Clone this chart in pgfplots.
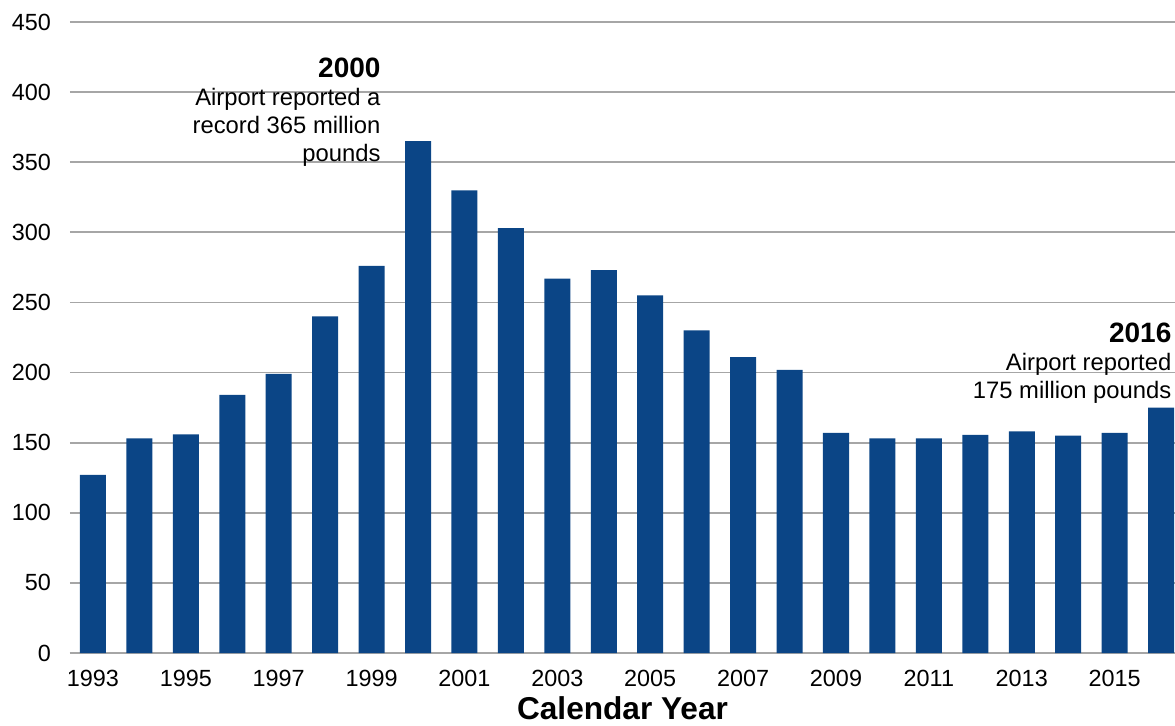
\documentclass[border=0pt]{standalone}
\usepackage{pgfplots}
\pgfplotsset{compat=1.18}
\usepackage{fontspec}
\setmainfont{Liberation Sans}
\definecolor{barblue}{HTML}{0B4586}
\definecolor{gridgray}{HTML}{A6A6A6}
\begin{document}
\begin{tikzpicture}
\begin{axis}[
  scale only axis,
  width=552.5pt, height=315.5pt,
  xmin=1992.505, xmax=2016.3,
  ymin=0, ymax=450,
  enlargelimits=false,
  ytick={0,50,...,450},
  xtick={1993,1995,...,2015},
  ymajorgrids,
  grid style={draw=gridgray, line width=0.9pt},
  axis x line=bottom,
  axis y line=left,
  x axis line style={draw=gridgray, line width=1.4pt, -},
  y axis line style={draw=none},
  major tick length=0pt,
  tick style={draw=none},
  /pgf/number format/assume math mode=true,
  ticklabel style={font=\fontsize{11.7}{13}\selectfont},
  xticklabel style={/pgf/number format/1000 sep={}, yshift=-5pt},
  yticklabel style={/pgf/number format/1000 sep={}, xshift=-6pt},
  xlabel={\textbf{Calendar Year}},
  xlabel style={font=\fontsize{15.8}{18}\selectfont, yshift=2pt},
  clip=true,
]
\addplot[ybar, bar width=0.56, fill=barblue, draw=none] coordinates {
(1993,127) (1994,153) (1995,156) (1996,184) (1997,199) (1998,240)
(1999,276) (2000,365) (2001,330) (2002,303) (2003,267) (2004,273)
(2005,255) (2006,230) (2007,211) (2008,202) (2009,157) (2010,153)
(2011,153) (2012,155.5) (2013,158) (2014,155) (2015,157) (2016,175)
};
\node[anchor=north east, align=right, inner sep=0pt, font=\fontsize{11.9}{14}\selectfont]
  at (axis cs:1999.2,425) {{\fontsize{14}{14}\selectfont\textbf{2000}}\\Airport reported a\\record 365 million\\pounds};
\node[anchor=north east, align=right, inner sep=0pt, font=\fontsize{11.9}{14}\selectfont]
  at (axis cs:2016.23,235.5) {{\fontsize{14}{14}\selectfont\textbf{2016}}\\Airport reported\\175 million pounds};
\end{axis}
\pgfresetboundingbox
\path[use as bounding box] (-35pt,-36pt) rectangle (552.5pt,326.5pt);
\end{tikzpicture}
\end{document}
